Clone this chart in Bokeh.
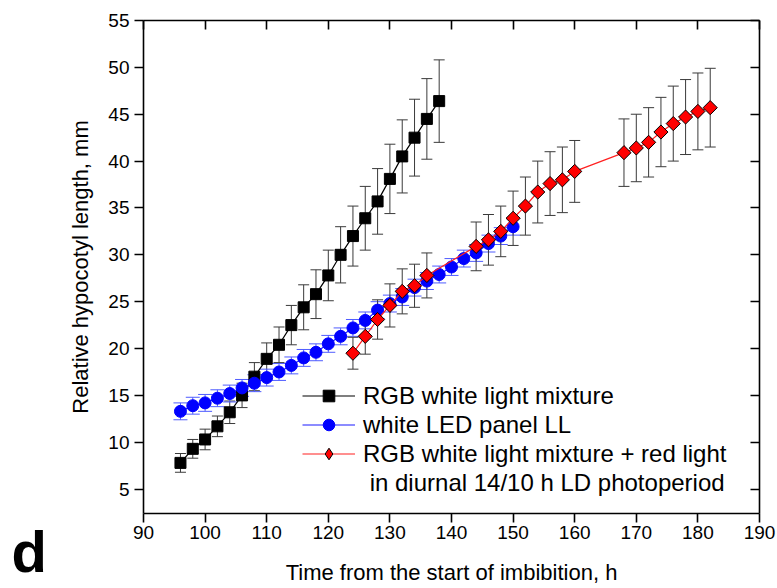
import numpy as np
from bokeh.plotting import figure
from bokeh.layouts import row
from bokeh.models import (ColumnDataSource, Whisker, TeeHead, LinearAxis, FixedTicker,
                          Legend, LegendItem, Label, CustomJSTickFormatter, Range1d)
from bokeh.embed import file_html
from bokeh.resources import INLINE

# ---- data ----
t_rgb = [96, 98, 100, 102, 104, 106, 108, 110, 112, 114, 116, 118, 120, 122, 124, 126,
         128, 130, 132, 134, 136, 138]
len_rgb = [7.8, 9.3, 10.3, 11.7, 13.2, 15.0, 17.0, 18.9, 20.4, 22.5, 24.4, 25.8, 27.8,
           30.0, 32.0, 33.9, 35.7, 38.1, 40.5, 42.5, 44.5, 46.4]
err_rgb = [1.0, 1.0, 1.1, 1.1, 1.2, 1.3, 1.5, 1.7, 1.9, 2.1, 2.4, 2.6, 2.7, 3.0, 3.2,
           3.4, 3.5, 3.7, 3.9, 4.1, 4.3, 4.4]

t_led = [96, 98, 100, 102, 104, 106, 108, 110, 112, 114, 116, 118, 120, 122, 124, 126,
         128, 130, 132, 134, 136, 138, 140, 142, 144, 146, 148, 150]
len_led = [13.3, 13.9, 14.2, 14.7, 15.2, 15.8, 16.3, 16.9, 17.5, 18.2, 19.0, 19.6, 20.5,
           21.3, 22.2, 23.0, 24.1, 24.8, 25.5, 26.5, 27.2, 27.9, 28.7, 29.6, 30.2, 31.2,
           32.0, 33.0]
err_led = [0.9, 0.9, 0.9, 0.9, 0.9, 0.9, 0.9, 0.9, 0.9, 0.9, 0.9, 0.9, 0.9, 0.9, 0.9,
           0.9, 0.9, 0.9, 0.9, 0.9, 0.9, 0.9, 0.9, 0.9, 0.9, 0.9, 0.9, 0.9]

t_red = [124, 126, 128, 130, 132, 134, 136, 144, 146, 148, 150, 152, 154, 156, 158, 160,
         168, 170, 172, 174, 176, 178, 180, 182]
len_red = [19.5, 21.3, 23.1, 24.6, 26.1, 26.7, 27.8, 30.9, 31.6, 32.5, 33.9, 35.2, 36.7,
           37.6, 38.0, 38.9, 40.9, 41.4, 42.0, 43.1, 44.0, 44.7, 45.3, 45.7]
err_red = [1.7, 1.9, 2.1, 2.3, 2.4, 2.3, 2.4, 2.6, 2.7, 2.7, 2.9, 3.1, 3.3, 3.4, 3.5, 3.3,
           3.6, 3.6, 3.7, 3.7, 4.0, 4.0, 4.1, 4.2]

x_ticks = [90, 100, 110, 120, 130, 140, 150, 160, 170, 180, 190]
y_ticks = [5, 10, 15, 20, 25, 30, 35, 40, 45, 50, 55]

labels = ["RGB white light mixture",
          "white LED panel LL",
          "RGB white light mixture + red light",
          "\u00a0in diurnal 14/10 h LD photoperiod"]
x_title = "Time from the start of imbibition, h"
y_title = "Relative hypocotyl length, mm"
panel_letter = "d"

FONT = "Liberation Sans"


def make_source(t, v, e):
    v = np.asarray(v, float)
    e = np.asarray(e, float)
    return ColumnDataSource(dict(t=t, v=v, lo=v - e, hi=v + e))


src_rgb = make_source(t_rgb, len_rgb, err_rgb)
src_led = make_source(t_led, len_led, err_led)
src_red = make_source(t_red, len_red, err_red)

# ---- narrow strip on the left that carries the panel letter ----
LETTER_W = 60
pd = figure(width=LETTER_W, height=588, output_backend="svg", toolbar_location=None,
            x_range=Range1d(0, 1), y_range=Range1d(0, 1),
            x_axis_type=None, y_axis_type=None,
            min_border=0, min_border_left=0, min_border_right=0,
            min_border_top=0, min_border_bottom=0)
pd.grid.visible = False
pd.outline_line_color = None
pd.border_fill_color = "white"
pd.background_fill_color = "white"
pd.add_layout(Label(x=11, y=37, x_units="screen", y_units="screen",
                    text=panel_letter, text_font=FONT, text_font_style="bold",
                    text_font_size="58px", text_color="black",
                    text_baseline="alphabetic", text_align="left"))

# ---- main plot ----
p = figure(width=777 - LETTER_W, height=588, output_backend="svg", toolbar_location=None,
           x_range=Range1d(90, 190), y_range=Range1d(2.4, 55),
           min_border_left=143 - LETTER_W, min_border_right=18, min_border_top=20,
           min_border_bottom=75)
p.grid.visible = False
p.outline_line_color = None
p.background_fill_color = "white"
p.border_fill_color = "white"

for fig in (pd, p):
    if "frame_align" in fig.properties():
        fig.frame_align = False


def style_axis(ax, ticks, labelled=True, inward=False):
    ax.ticker = FixedTicker(ticks=ticks, num_minor_ticks=2)
    ax.axis_line_width = 1.6
    ax.axis_line_color = "black"
    ax.major_tick_line_color = "black"
    ax.minor_tick_line_color = "black"
    ax.major_tick_line_width = 1.6
    ax.minor_tick_line_width = 1.6
    if inward:
        ax.major_tick_in, ax.major_tick_out = 9, 0
        ax.minor_tick_in, ax.minor_tick_out = 5, 0
    else:
        ax.major_tick_in, ax.major_tick_out = 0, 9
        ax.minor_tick_in, ax.minor_tick_out = 0, 5
    ax.major_label_text_font = FONT
    ax.major_label_text_font_size = "19px"
    ax.major_label_text_color = "black"
    ax.axis_label_text_font = FONT
    ax.axis_label_text_font_style = "normal"
    ax.axis_label_text_font_size = "22px"
    ax.axis_label_text_color = "black"
    if not labelled:
        ax.formatter = CustomJSTickFormatter(code="return ''")
        ax.major_label_standoff = 0


xb = p.xaxis[0]
yl = p.yaxis[0]
style_axis(xb, x_ticks)
style_axis(yl, y_ticks)
xb.axis_label = x_title
yl.axis_label = y_title
xb.major_label_standoff = 3
xb.axis_label_standoff = 18
yl.major_label_standoff = 5
yl.axis_label_standoff = 12

xt = LinearAxis()
style_axis(xt, x_ticks, labelled=False, inward=True)
p.add_layout(xt, "above")
yr = LinearAxis()
style_axis(yr, y_ticks, labelled=False, inward=True)
p.add_layout(yr, "right")


# ---- error bars ----
def add_whisker(src, color, cap, width=1.0):
    w = Whisker(base="t", upper="hi", lower="lo", source=src,
                line_color=color, line_width=width,
                upper_head=TeeHead(size=cap, line_color=color, line_width=width),
                lower_head=TeeHead(size=cap, line_color=color, line_width=width))
    p.add_layout(w)


add_whisker(src_rgb, "#3a3a3a", 11)
add_whisker(src_led, "#4f5cff", 14)
add_whisker(src_red, "#3a3a3a", 11)

# ---- series ----
l1 = p.line("t", "v", source=src_rgb, line_color="black", line_width=1.2)
m1 = p.scatter("t", "v", source=src_rgb, marker="square", size=11,
               fill_color="black", line_color="black")
l2 = p.line("t", "v", source=src_led, line_color="#1a1aff", line_width=1.2)
m2 = p.scatter("t", "v", source=src_led, marker="circle", size=12,
               fill_color="#0000ff", line_color="#0000ff")
l3 = p.line("t", "v", source=src_red, line_color="#ff2020", line_width=1.2)
m3 = p.scatter("t", "v", source=src_red, marker="square", size=10, angle=np.pi / 4,
               fill_color="#ff0000", line_color="black", line_width=1)
# legend swatch for the red series (legend glyphs are never rotated); hidden in the plot
m3_key = p.scatter("t", "v", source=src_red, marker="diamond", size=16,
                   fill_color="#ff0000", line_color="black", line_width=1)
m3_key.visible = False

legend = Legend(items=[LegendItem(label=labels[0], renderers=[l1, m1]),
                       LegendItem(label=labels[1], renderers=[l2, m2]),
                       LegendItem(label=labels[2], renderers=[l3, m3_key]),
                       LegendItem(label=labels[3], renderers=[])],
                location=(159, 16), orientation="vertical",
                border_line_color=None, background_fill_alpha=0,
                padding=0, margin=0, spacing=0,
                glyph_width=53, glyph_height=29, label_standoff=8, label_height=20,
                label_text_font=FONT, label_text_font_size="24px",
                label_text_color="black")
p.add_layout(legend, "center")

layout = row(pd, p, spacing=0)
open("out.html", "w").write(file_html(layout, INLINE))
